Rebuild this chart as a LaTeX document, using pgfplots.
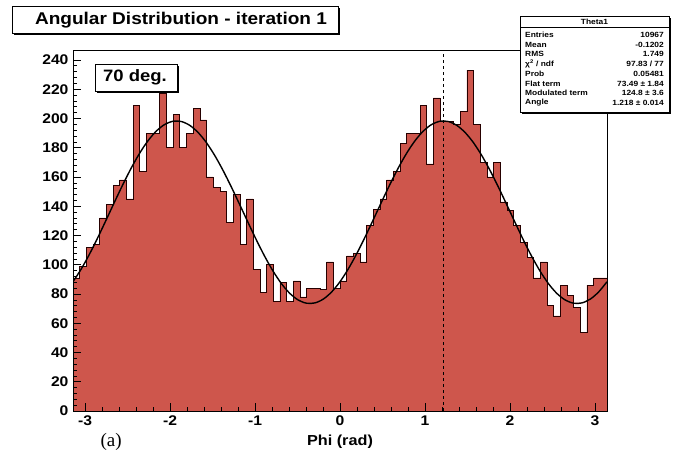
\documentclass[border=0pt]{standalone}
\usepackage{fontspec}
\setmainfont{Liberation Sans}[FakeStretch=1.12]
\newfontfamily\serifa{Liberation Serif}
\usepackage{pgfplots}
\usepackage{pgfplotstable}
\pgfplotsset{compat=1.18}
\definecolor{histred}{RGB}{206,86,76}

\pgfplotstableread{
x y
-3.1416 91
-3.0631 99
-2.9845 112
-2.9060 114
-2.8274 132
-2.7489 141
-2.6704 154
-2.5918 158
-2.5133 145
-2.4347 209
-2.3562 164
-2.2777 190
-2.1991 190
-2.1206 217
-2.0420 180
-1.9635 203
-1.8850 180
-1.8064 190
-1.7279 207
-1.6493 199
-1.5708 160
-1.4923 153
-1.4137 150
-1.3352 129
-1.2566 148
-1.1781 114
-1.0996 145
-1.0210 97
-0.9425 81
-0.8639 100
-0.7854 75
-0.7069 88
-0.6283 75
-0.5498 89
-0.4712 78
-0.3927 84
-0.3142 84
-0.2356 83
-0.1571 102
-0.0785 84
0.0000 89
0.0785 106
0.1571 108
0.2356 102
0.3142 127
0.3927 138
0.4712 145
0.5498 158
0.6283 164
0.7069 183
0.7854 190
0.8639 190
0.9425 209
1.0210 169
1.0996 214
1.1781 198
1.2566 198
1.3352 196
1.4137 205
1.4923 233
1.5708 196
1.6493 170
1.7279 160
1.8064 170
1.8850 143
1.9635 137
2.0420 127
2.1206 115
2.1991 105
2.2777 91
2.3562 102
2.4347 72
2.5133 65
2.5918 86
2.6704 79
2.7489 71
2.8274 54
2.9060 86
2.9845 91
3.0631 91
3.1416 91
}\histdata

\begin{document}
\begin{tikzpicture}[x=1pt,y=1pt]
\path[use as bounding box] (-73,-50) rectangle (603,411);
\begin{axis}[
  at={(0,0)}, anchor=south west,
  scale only axis, width=534pt, height=361pt,
  xmin=-3.14159, xmax=3.14159, ymin=0, ymax=246.8,
  axis on top,
  axis line style={black, line width=0.6pt},
  tick pos=left,
  xtick={-3,-2,-1,0,1,2,3}, ytick={0,20,...,240},
  minor x tick num=4, minor y tick num=4,
  major tick length=8pt, minor tick length=4pt,
  every tick/.style={black, line width=0.6pt},
  /pgf/number format/assume math mode=true,
  ticklabel style={font=\fontsize{14}{14}\selectfont\bfseries},
  xticklabel style={yshift=-1pt},
  yticklabel style={xshift=-1pt},
  xlabel={Phi (rad)},
  xlabel style={font=\fontsize{14.5}{14.5}\selectfont\bfseries, at={(axis description cs:0.5,0)}, anchor=center, yshift=-31pt},
]
\addplot[ybar interval, fill=histred, draw=none] table[x=x, y=y] {\histdata};
\addplot[const plot, draw=black!85!red, line width=0.6pt] table[x=x, y=y] {\histdata};
\addplot[black, dashed, line width=0.7pt] coordinates {(1.218,0) (1.218,246.8)};
\addplot[black, line width=1.4pt, smooth] coordinates {
(-3.1416,88.39) (-3.0434,97.20) (-2.9452,107.50) (-2.8471,118.89) (-2.7489,130.92) (-2.6507,143.14) (-2.5525,155.10) (-2.4544,166.31) (-2.3562,176.35) (-2.2580,184.85) (-2.1598,191.45) (-2.0617,195.93) (-1.9635,198.09) (-1.8653,197.87) (-1.7671,195.26) (-1.6690,190.37) (-1.5708,183.39) (-1.4726,174.58) (-1.3744,164.28) (-1.2763,152.89) (-1.1781,140.86) (-1.0799,128.64) (-0.9817,116.68) (-0.8836,105.47) (-0.7854,95.43) (-0.6872,86.93) (-0.5890,80.33) (-0.4909,75.85) (-0.3927,73.69) (-0.2945,73.91) (-0.1963,76.52) (-0.0982,81.41) (0,88.39)
(0.0982,97.20) (0.1963,107.50) (0.2945,118.89) (0.3927,130.92) (0.4909,143.14) (0.5890,155.10) (0.6872,166.31) (0.7854,176.35) (0.8836,184.85) (0.9817,191.45) (1.0799,195.93) (1.1781,198.09) (1.2763,197.87) (1.3744,195.26) (1.4726,190.37) (1.5708,183.39) (1.6690,174.58) (1.7671,164.28) (1.8653,152.89) (1.9635,140.86) (2.0617,128.64) (2.1598,116.68) (2.2580,105.47) (2.3562,95.43) (2.4544,86.93) (2.5525,80.33) (2.6507,75.85) (2.7489,73.69) (2.8471,73.91) (2.9452,76.52) (3.0434,81.41) (3.1416,88.39)};
\end{axis}
% title box
\draw[line width=0.6pt, fill=white] (-61,378) rectangle (265,405);
\draw[line width=2.4pt] (-59,376.8) -- (266.2,376.8) -- (266.2,403);
\node[font=\fontsize{17}{17}\selectfont\bfseries] at (108,391) {Angular Distribution - iteration 1};
% 70 deg box
\draw[line width=0.6pt, fill=white] (22,320) rectangle (104,347);
\draw[line width=2.4pt] (24,318.8) -- (105.2,318.8) -- (105.2,345);
\node[font=\fontsize{16.5}{16.5}\selectfont\bfseries] at (62,333.5) {70 deg.};
% stats box
\draw[line width=0.6pt, fill=white] (447,299) rectangle (596,395);
\draw[line width=1.8pt] (449,298.1) -- (596.9,298.1) -- (596.9,393);
\draw[line width=0.5pt] (447,384) -- (596,384);
\begin{scope}[every node/.style={font=\fontsize{7.5}{7.5}\selectfont\bfseries, inner sep=0pt}]
\node at (521.5,389.5) {Theta1};
\node[anchor=west] at (452,376) {Entries};
\node[anchor=east] at (591,376) {10967};
\node[anchor=west] at (452,366.3) {Mean};
\node[anchor=east] at (591,366.3) {-0.1202};
\node[anchor=west] at (452,356.6) {RMS};
\node[anchor=east] at (591,356.6) {1.749};
\node[anchor=west] at (452,346.9) {χ\textsuperscript{2} / ndf};
\node[anchor=east] at (591,346.9) {97.83 / 77};
\node[anchor=west] at (452,337.2) {Prob};
\node[anchor=east] at (591,337.2) {0.05481};
\node[anchor=west] at (452,327.5) {Flat term};
\node[anchor=east] at (591,327.5) {73.49 ± 1.84};
\node[anchor=west] at (452,317.8) {Modulated term};
\node[anchor=east] at (591,317.8) {124.8 ± 3.6};
\node[anchor=west] at (452,308.1) {Angle};
\node[anchor=east] at (591,308.1) {1.218 ± 0.014};
\end{scope}
% (a)
\node[font=\serifa\fontsize{19}{19}\selectfont, anchor=west] at (24,-31) {(a)};
\end{tikzpicture}
\end{document}
